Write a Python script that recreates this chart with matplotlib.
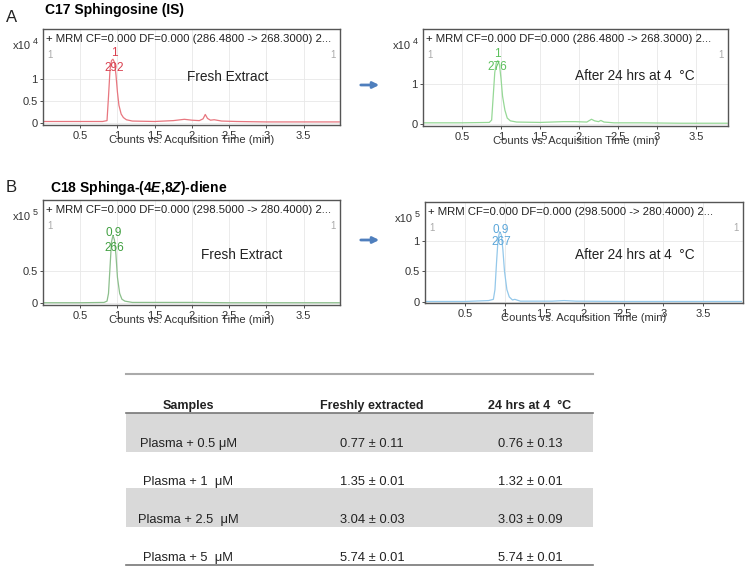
import matplotlib
matplotlib.use("Agg")
import matplotlib.pyplot as plt

plt.rcParams['font.family'] = ['Liberation Sans', 'DejaVu Sans']
plt.rcParams['mathtext.fontset'] = 'custom'
plt.rcParams['mathtext.rm'] = 'Liberation Sans:bold'
plt.rcParams['mathtext.it'] = 'Liberation Sans:bold:italic'

# ---- chromatogram traces ----
# A: C17 sphingosine, x10^4 counts
a_fresh_t = [0.02, 0.4, 0.8, 0.86, 0.88, 0.9, 0.92, 0.94, 0.96, 0.98, 1.0, 1.02, 1.05, 1.08,
             1.12, 1.2, 1.5, 1.75, 1.9, 2.0, 2.1, 2.15, 2.18, 2.21, 2.25, 2.3, 2.4, 2.6, 3.0, 3.5, 3.98]
a_fresh_y = [0.03, 0.03, 0.03, 0.05, 0.6, 1.2, 1.42, 1.45, 1.38, 1.1, 0.7, 0.4, 0.2, 0.12,
             0.07, 0.04, 0.03, 0.05, 0.08, 0.06, 0.05, 0.09, 0.19, 0.1, 0.06, 0.07, 0.04, 0.03, 0.02, 0.02, 0.02]
a_after_t = [0.02, 0.5, 0.85, 0.88, 0.9, 0.92, 0.94, 0.96, 0.98, 1.0, 1.02, 1.05, 1.08, 1.12,
             1.2, 1.5, 1.8, 1.95, 2.1, 2.16, 2.2, 2.25, 2.28, 2.32, 2.45, 2.8, 3.3, 3.9]
a_after_y = [0.03, 0.03, 0.04, 0.1, 0.7, 1.3, 1.55, 1.6, 1.5, 1.15, 0.7, 0.35, 0.15, 0.08,
             0.05, 0.04, 0.06, 0.06, 0.05, 0.12, 0.08, 0.06, 0.09, 0.05, 0.03, 0.03, 0.02, 0.02]
# B: C18 sphingadiene, x10^5 counts
b_fresh_t = [0.02, 0.5, 0.82, 0.86, 0.88, 0.9, 0.92, 0.94, 0.96, 0.98, 1.0, 1.03, 1.06, 1.1,
             1.2, 1.6, 2.0, 2.5, 3.0, 3.98]
b_fresh_y = [0.005, 0.005, 0.01, 0.03, 0.15, 0.55, 0.95, 1.05, 0.98, 0.75, 0.4, 0.15, 0.06, 0.03,
             0.01, 0.01, 0.01, 0.005, 0.005, 0.005]
b_after_t = [0.02, 0.5, 0.8, 0.86, 0.88, 0.9, 0.92, 0.94, 0.96, 0.98, 1.0, 1.03, 1.06, 1.1,
             1.13, 1.2, 1.6, 1.75, 1.9, 2.5, 3.0, 3.98]
b_after_y = [0.005, 0.005, 0.02, 0.04, 0.2, 0.65, 1.05, 1.15, 1.1, 0.85, 0.5, 0.2, 0.08, 0.03,
             0.04, 0.01, 0.01, 0.02, 0.01, 0.005, 0.005, 0.005]

peak_rt = ['1', '1', '0.9', '0.9']
peak_area = ['292', '276', '266', '267']

# ---- table ----
col_headers = ['Samples', 'Freshly extracted', '24 hrs at 4  °C']
samples = ['Plasma + 0.5 μM', 'Plasma + 1  μM', 'Plasma + 2.5  μM', 'Plasma + 5  μM']
fresh_vals = ['0.77 ± 0.11', '1.35 ± 0.01', '3.04 ± 0.03', '5.74 ± 0.01']
after_vals = ['0.76 ± 0.13', '1.32 ± 0.01', '3.03 ± 0.09', '5.74 ± 0.01']

W, H = 750, 577
fig = plt.figure(figsize=(7.5, 5.77), dpi=100)

# background axes in pixel coordinates for labels, arrows and table
bg = fig.add_axes([0, 0, 1, 1])
bg.set_xlim(0, W)
bg.set_ylim(H, 0)
bg.axis('off')


def box(x0, y0, x1, y1):
    return [x0 / W, 1 - y1 / H, (x1 - x0) / W, (y1 - y0) / H]


panels = [
    # rect, t, y, ylim, yticks, exp, line colour, label colour, label y, note, note pos, xmax
    (box(43, 29, 340, 125), a_fresh_t, a_fresh_y, (-0.05, 2.14), [0, 0.5, 1], '4',
     '#e8767f', '#d9404f', (1.59, 1.25), 'Fresh Extract', (0.62, 0.5), 3.99),
    (box(423, 29, 728, 126), a_after_t, a_after_y, (-0.05, 2.4), [0, 1], '4',
     '#96d896', '#5cc05c', (1.78, 1.43), 'After 24 hrs at 4  °C', (0.695, 0.52), 3.91),
    (box(43, 200, 340, 305), b_fresh_t, b_fresh_y, (-0.03, 1.6), [0, 0.5], '5',
     '#8cbf8c', '#3f9f3f', (1.08, 0.86), 'Fresh Extract', (0.67, 0.48), 3.99),
    (box(425, 202, 743, 303), b_after_t, b_after_y, (-0.02, 1.64), [0, 0.5, 1], '5',
     '#94c8ea', '#5ba6d9', (1.18, 0.98), 'After 24 hrs at 4  °C', (0.66, 0.475), 4.0),
]
headers = ['+ MRM CF=0.000 DF=0.000 (286.4800 -> 268.3000) 2...',
           '+ MRM CF=0.000 DF=0.000 (286.4800 -> 268.3000) 2...',
           '+ MRM CF=0.000 DF=0.000 (298.5000 -> 280.4000) 2...',
           '+ MRM CF=0.000 DF=0.000 (298.5000 -> 280.4000) 2...']

for i, (rect, t, y, ylim, yticks, exp, lc, tc, ly, note, npos, xmax) in enumerate(panels):
    ax = fig.add_axes(rect)
    ax.plot(t, y, color=lc, lw=0.9)
    ax.set_xlim(0, xmax)
    ax.set_ylim(*ylim)
    ax.set_xticks([0.5, 1, 1.5, 2, 2.5, 3, 3.5])
    ax.set_xticklabels(['0.5', '1', '1.5', '2', '2.5', '3', '3.5'])
    ax.set_yticks(yticks)
    ax.set_yticklabels([f'{v:g}' for v in yticks])
    ax.grid(True, color='#e8e8e8', lw=0.6)
    ax.set_axisbelow(True)
    ax.tick_params(labelsize=8, length=2, pad=2, colors='#333333', width=0.6)
    for s in ax.spines.values():
        s.set_color('#555555')
        s.set_linewidth(1.0)
    ax.annotate(headers[i], (0, 1), xycoords='axes fraction', xytext=(2, -7),
                textcoords='offset points', fontsize=8.2, va='center', color='#222222')
    ax.annotate('1', (0, 1), xycoords='axes fraction', xytext=(3, -19),
                textcoords='offset points', fontsize=7, va='center', color='#aaaaaa')
    ax.annotate('1', (1, 1), xycoords='axes fraction', xytext=(-3, -19),
                textcoords='offset points', fontsize=7, va='center', ha='right', color='#aaaaaa')
    # scale exponent
    ax.annotate('x10', (0, 1), xycoords='axes fraction', xytext=(-9, -12),
                textcoords='offset points', fontsize=8, va='center', ha='right', color='#333333')
    ax.annotate(exp, (0, 1), xycoords='axes fraction', xytext=(-5.5, -9),
                textcoords='offset points', fontsize=6.5, va='center', ha='center', color='#333333')
    # peak annotations
    ax.text(0.955, ly[0], peak_rt[i], color=tc, fontsize=8.5, ha='center', va='center')
    ax.text(0.955, ly[1], peak_area[i], color=tc, fontsize=8.5, ha='center', va='center')
    ax.text(npos[0], npos[1], note, transform=ax.transAxes, fontsize=9.8,
            ha='center', va='center', color='#222222')
    ax.annotate('Counts vs. Acquisition Time (min)', (0.5, 0), xycoords='axes fraction',
                xytext=(0, -11), textcoords='offset points', fontsize=8,
                ha='center', va='center', color='#333333')

# panel letters and titles
bg.text(6, 18, 'A', fontsize=12, va='center', color='#222222')
bg.text(45, 10, 'C17 Sphingosine (IS)', fontsize=10, fontweight='bold', va='center')
bg.text(6, 188, 'B', fontsize=12, va='center', color='#222222')
bg.text(50, 188, r'C18 Sphinga-(4$\mathit{E}$,8$\mathit{Z}$)-diene', fontsize=10,
        fontweight='bold', va='center')

# arrows between panels
for ya in (85, 240):
    bg.annotate('', xy=(382, ya), xytext=(358, ya),
                arrowprops=dict(arrowstyle='-|>', color='#4f7fbd', lw=2, mutation_scale=9))

# table
cols_x = [188, 372, 530]
bg.plot([126, 593], [374, 374], color='#aaaaaa', lw=1.5)
for x, h in zip(cols_x, col_headers):
    bg.text(x, 406, h, fontsize=9, fontweight='bold', ha='center', va='center', color='#222222')
bg.plot([126, 593], [413, 413], color='#777777', lw=1.2)
row_top = [413, 450, 488, 526]
row_txt = [444, 482, 520, 558]
for r in range(len(samples)):
    if r % 2 == 0:
        bg.fill_between([126, 593], row_top[r], row_top[r] + 39, color='#d9d9d9', lw=0)
    for x, v in zip(cols_x, [samples[r], fresh_vals[r], after_vals[r]]):
        bg.text(x, row_txt[r], v, fontsize=9.3, ha='center', va='center', color='#222222')
bg.plot([126, 593], [565, 565], color='#777777', lw=1.2)

fig.savefig('out.png', dpi=100)
